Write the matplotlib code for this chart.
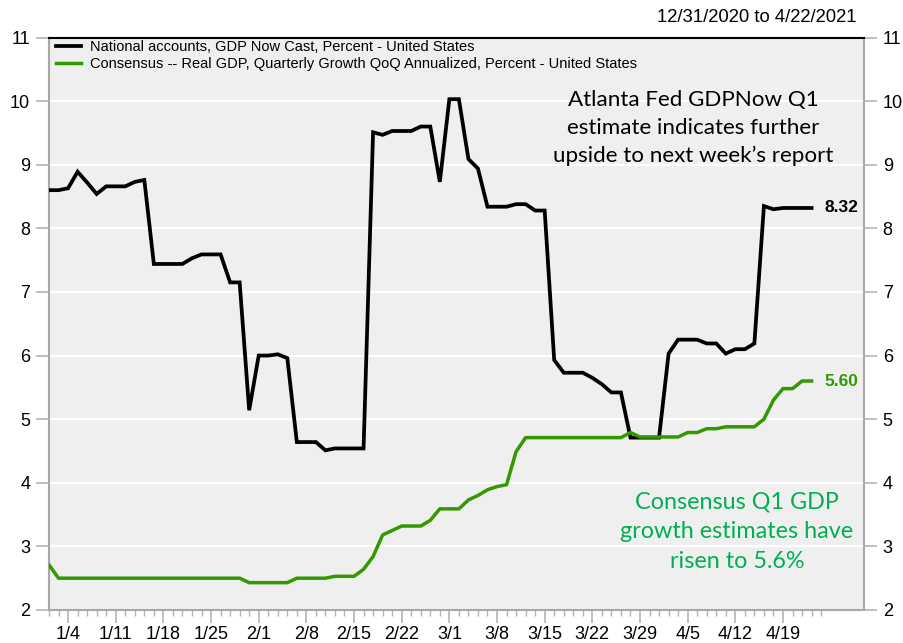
import numpy as np
import pandas as pd
import matplotlib
matplotlib.use("Agg")
import matplotlib.pyplot as plt

plt.rcParams['font.family'] = ['Liberation Sans', 'DejaVu Sans']

# business days 12/31/2020 .. 4/23/2021 (axis), data through 4/22
dates = pd.bdate_range('2020-12-31', '2021-04-23')

gdpnow = [8.60, 8.60, 8.63, 8.89, 8.72, 8.54, 8.66, 8.66, 8.66, 8.73,
          8.76, 7.44, 7.44, 7.44, 7.44, 7.53, 7.59, 7.59, 7.59, 7.15,
          7.15, 5.14, 6.00, 6.00, 6.02, 5.96, 4.64, 4.64, 4.64, 4.51,
          4.54, 4.54, 4.54, 4.54, 9.51, 9.47, 9.53, 9.53, 9.53, 9.60,
          9.60, 8.73, 10.03, 10.03, 9.09, 8.94, 8.34, 8.34, 8.34, 8.38,
          8.38, 8.28, 8.28, 5.93, 5.73, 5.73, 5.73, 5.65, 5.55, 5.42,
          5.42, 4.71, 4.71, 4.71, 4.71, 6.03, 6.25, 6.25, 6.25, 6.19,
          6.19, 6.03, 6.10, 6.10, 6.19, 8.35, 8.30, 8.32, 8.32, 8.32,
          8.32]

consensus = [2.71, 2.50, 2.50, 2.50, 2.50, 2.50, 2.50, 2.50, 2.50, 2.50,
             2.50, 2.50, 2.50, 2.50, 2.50, 2.50, 2.50, 2.50, 2.50, 2.50,
             2.50, 2.43, 2.43, 2.43, 2.43, 2.43, 2.50, 2.50, 2.50, 2.50,
             2.53, 2.53, 2.53, 2.64, 2.84, 3.18, 3.25, 3.32, 3.32, 3.32,
             3.41, 3.59, 3.59, 3.59, 3.73, 3.80, 3.89, 3.94, 3.97, 4.49,
             4.71, 4.71, 4.71, 4.71, 4.71, 4.71, 4.71, 4.71, 4.71, 4.71,
             4.71, 4.79, 4.72, 4.72, 4.72, 4.72, 4.72, 4.79, 4.79, 4.85,
             4.85, 4.88, 4.88, 4.88, 4.88, 5.00, 5.30, 5.48, 5.48, 5.60,
             5.60]

label_black = "National accounts, GDP Now Cast, Percent - United States"
label_green = "Consensus -- Real GDP, Quarterly Growth QoQ Annualized, Percent - United States"

green = '#339900'
text_green = '#00b050'
gray = '#b4b4b4'

fig = plt.figure(figsize=(9.04, 6.43), dpi=100)
ax = fig.add_axes([49 / 904, 1 - 610 / 643, (864 - 49) / 904, (610 - 37.5) / 643])
ax.set_facecolor('#efefef')

x = np.arange(len(gdpnow))
ax.plot(x, gdpnow, color='black', lw=2.7, label=label_black, solid_joinstyle='miter', zorder=3)
ax.plot(x, consensus, color=green, lw=2.5, label=label_green, zorder=3)

ax.set_ylim(2, 11)
ax.set_xlim(0, 85.5)
ax.set_yticks(range(2, 12))
ax.grid(axis='y', color='white', lw=1.6)
ax.set_axisbelow(True)

mondays = [i for i, d in enumerate(dates) if d.weekday() == 0]
ax.set_xticks(mondays)
ax.set_xticklabels([f"{dates[i].month}/{dates[i].day}" for i in mondays])
ax.set_xticks(range(len(dates)), minor=True)

ax.tick_params(axis='y', which='both', left=True, right=True, labelleft=True, labelright=True,
               length=9.5, width=1.2, color=gray, labelsize=13, pad=4)
ax.tick_params(axis='x', which='major', length=9.5, width=1.2, color=gray, labelsize=13, pad=2)
ax.tick_params(axis='x', which='minor', length=4.5, width=1.0, color=gray)

for side in ['left', 'right', 'bottom']:
    ax.spines[side].set_color('#a8a8a8')
    ax.spines[side].set_linewidth(1.5)
ax.spines['top'].set_color('black')
ax.spines['top'].set_linewidth(1.5)

leg = ax.legend(loc='upper left', frameon=False, fontsize=10.5, handlelength=1.7,
                handletextpad=0.6, borderaxespad=0.1, labelspacing=0.2,
                bbox_to_anchor=(0.0, 1.008))

fig.text(857 / 904, 1 - 18 / 643, "12/31/2020 to 4/22/2021", ha='right', va='center', fontsize=13.3)

ax.annotate(f"{gdpnow[-1]:.2f}", xy=(x[-1], gdpnow[-1]), xytext=(9, 0), textcoords='offset points',
            ha='left', va='center', fontsize=12.5, fontweight='bold', color='black')
ax.annotate(f"{consensus[-1]:.2f}", xy=(x[-1], consensus[-1]), xytext=(9, 0), textcoords='offset points',
            ha='left', va='center', fontsize=12.5, fontweight='bold', color=green)

ax.text(693 / 904, 1 - 128 / 643, "Atlanta Fed GDPNow Q1\nestimate indicates further\nupside to next week\u2019s report",
        transform=fig.transFigure, ha='center', va='center', fontsize=16.1, family='Lato',
        linespacing=1.5, color='black')
ax.text(737 / 904, 1 - 532 / 643, "Consensus Q1 GDP\ngrowth estimates have\nrisen to 5.6%",
        transform=fig.transFigure, ha='center', va='center', fontsize=16.8, family='Lato',
        linespacing=1.5, color=text_green)

fig.savefig('out.png', dpi=100)
